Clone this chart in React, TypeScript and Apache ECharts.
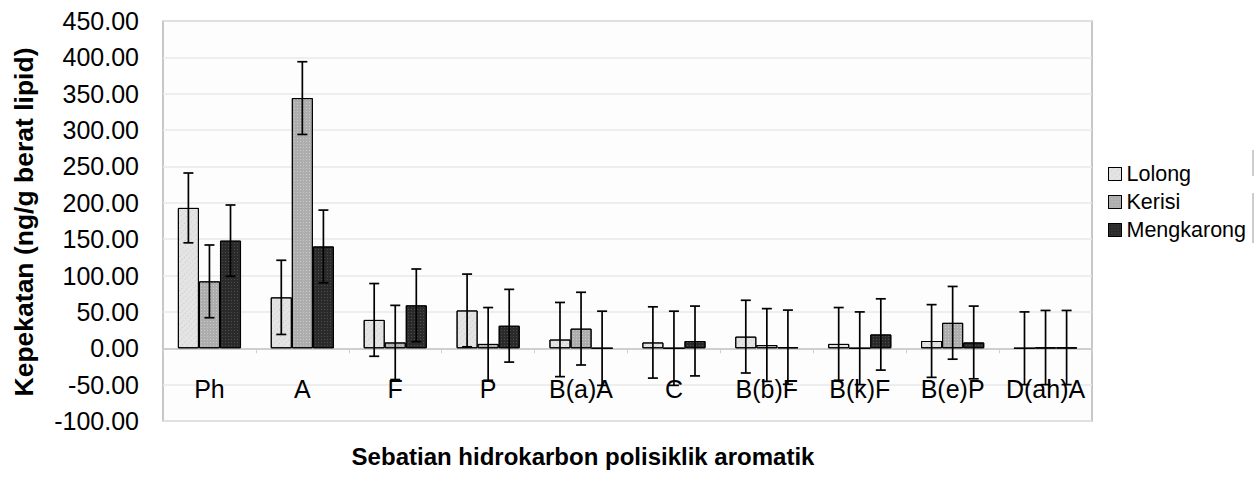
import React, { useEffect, useRef } from "react";
import * as echarts from "echarts";

const categories = ["Ph", "A", "F", "P", "B(a)A", "C", "B(b)F", "B(k)F", "B(e)P", "D(ah)A"];
const seriesNames = ["Lolong", "Kerisi", "Mengkarong"];
const lolong = [193, 70, 39, 52, 12, 8, 16, 6, 10, 0];
const kerisi = [92, 344, 8, 6, 27, 0, 4.5, 0, 35, 1];
const mengkarong = [148, 140, 59, 31, 0, 10, 1.5, 19, 8, 1];
const lolongErr = [48, 51, 50, 50, 51, 49, 50, 50, 50, 50];
const kerisiErr = [50, 50, 51, 50, 50, 51, 50, 50, 50, 51];
const mengkarongErr = [49, 50, 50, 50, 51, 48, 51, 49, 50, 51];
const yTicks = { min: -100, max: 450, interval: 50 };

const FONT = "'Liberation Sans', Arial, sans-serif";
const CAT_GAP = 0.32;
const GRID_TOP = 21;
const GRID_H = 400;

export default function App() {
  const ref = useRef<HTMLDivElement>(null);
  useEffect(() => {
    if (!ref.current) return;
    const chart = echarts.init(ref.current, null, { renderer: "svg" });
    const values = [lolong, kerisi, mengkarong];
    const errs = [lolongErr, kerisiErr, mengkarongErr];
    const colors = ["#e4e4e4", "#adadad", "#2a2a2a"];
    const decals = [
      { symbol: "rect", symbolSize: 1, color: "rgba(150,150,150,0.35)", dashArrayX: [1, 3], dashArrayY: [1, 2], rotation: Math.PI / 4 },
      { symbol: "rect", symbolSize: 1, color: "rgba(255,255,255,0.35)", dashArrayX: [1, 2], dashArrayY: [1, 2] },
      { symbol: "rect", symbolSize: 1, color: "rgba(120,120,120,0.45)", dashArrayX: [1, 2], dashArrayY: [1, 2] },
    ];
    // pixel offset of the zero line from the grid bottom
    const zeroOffset = (GRID_H * (0 - yTicks.min)) / (yTicks.max - yTicks.min);

    const barSeries = seriesNames.map((name, k) => ({
      type: "bar",
      name,
      data: values[k],
      barGap: "0%",
      barCategoryGap: CAT_GAP * 100 + "%",
      itemStyle: { color: colors[k], borderColor: "#000", borderWidth: 1, decal: decals[k] },
      z: 2,
    }));

    const errSeries = seriesNames.map((name, k) => ({
      type: "custom",
      name: name + " error",
      data: values[k].map((v, i) => [i, v - errs[k][i], v + errs[k][i]]),
      encode: { x: 0, y: [1, 2] },
      z: 5,
      renderItem: (params: any, api: any) => {
        const i = api.value(0);
        const top = api.coord([i, api.value(2)]);
        const bot = api.coord([i, api.value(1)]);
        const band = api.size([1, 0])[0];
        const barW = (band * (1 - CAT_GAP)) / 3;
        const x = top[0] + (k - 1) * barW;
        const cap = 5;
        const style = { stroke: "#000", lineWidth: 1.7 };
        return {
          type: "group",
          children: [
            { type: "line", shape: { x1: x, y1: top[1], x2: x, y2: bot[1] }, style },
            { type: "line", shape: { x1: x - cap, y1: top[1], x2: x + cap, y2: top[1] }, style },
            { type: "line", shape: { x1: x - cap, y1: bot[1], x2: x + cap, y2: bot[1] }, style },
          ],
        };
      },
    }));

    chart.setOption({
      animation: false,
      backgroundColor: "#fff",
      textStyle: { fontFamily: FONT },
      grid: {
        left: 163,
        top: GRID_TOP,
        width: 929,
        height: GRID_H,
        show: true,
        borderColor: "#b5b5b5",
        borderWidth: 1.5,
        backgroundColor: "#fdfdfd",
      },
      legend: {
        orient: "vertical",
        left: 1103,
        top: 158,
        data: seriesNames,
        icon: "rect",
        itemWidth: 13,
        itemHeight: 13,
        itemGap: 6,
        textStyle: { fontSize: 21.5, color: "#000", fontFamily: FONT },
        itemStyle: { borderColor: "#000", borderWidth: 1 },
      },
      xAxis: {
        type: "category",
        data: categories,
        offset: -zeroOffset,
        axisLine: { onZero: false, lineStyle: { color: "#c4c4c4", width: 1.5 } },
        axisTick: { show: true, length: 5, lineStyle: { color: "#d0d0d0" } },
        axisLabel: { interval: 0, fontSize: 25, color: "#000", margin: 28, fontFamily: FONT },
        splitLine: { show: false },
      },
      yAxis: {
        type: "value",
        min: yTicks.min,
        max: yTicks.max,
        interval: yTicks.interval,
        axisLine: { show: false },
        axisTick: { show: false },
        axisLabel: {
          fontSize: 25,
          color: "#000",
          margin: 24,
          fontFamily: FONT,
          formatter: (v: number) => v.toFixed(2),
        },
        splitLine: { lineStyle: { color: "#e8e8e8", width: 1.5 } },
      },
      graphic: [
        {
          type: "text",
          x: 24,
          y: 222,
          rotation: Math.PI / 2,
          style: {
            text: "Kepekatan (ng/g berat lipid)",
            fontSize: 26.5,
            fontWeight: "bold",
            fontFamily: FONT,
            fill: "#000",
            textAlign: "center",
            textVerticalAlign: "middle",
          },
        },
        {
          type: "text",
          x: 583,
          y: 456,
          style: {
            text: "Sebatian hidrokarbon polisiklik aromatik",
            fontSize: 24,
            fontWeight: "bold",
            fontFamily: FONT,
            fill: "#000",
            textAlign: "center",
            textVerticalAlign: "middle",
          },
        },
        { type: "line", shape: { x1: 1253, y1: 150, x2: 1253, y2: 176 }, style: { stroke: "#9a9a9a", lineWidth: 1 } },
        { type: "line", shape: { x1: 1253, y1: 193, x2: 1253, y2: 243 }, style: { stroke: "#9a9a9a", lineWidth: 1 } },
      ],
      series: [...barSeries, ...errSeries],
    });
    return () => chart.dispose();
  }, []);
  return <div ref={ref} style={{ position: "absolute", left: 0, top: 0, width: 1257, height: 481 }} />;
}
